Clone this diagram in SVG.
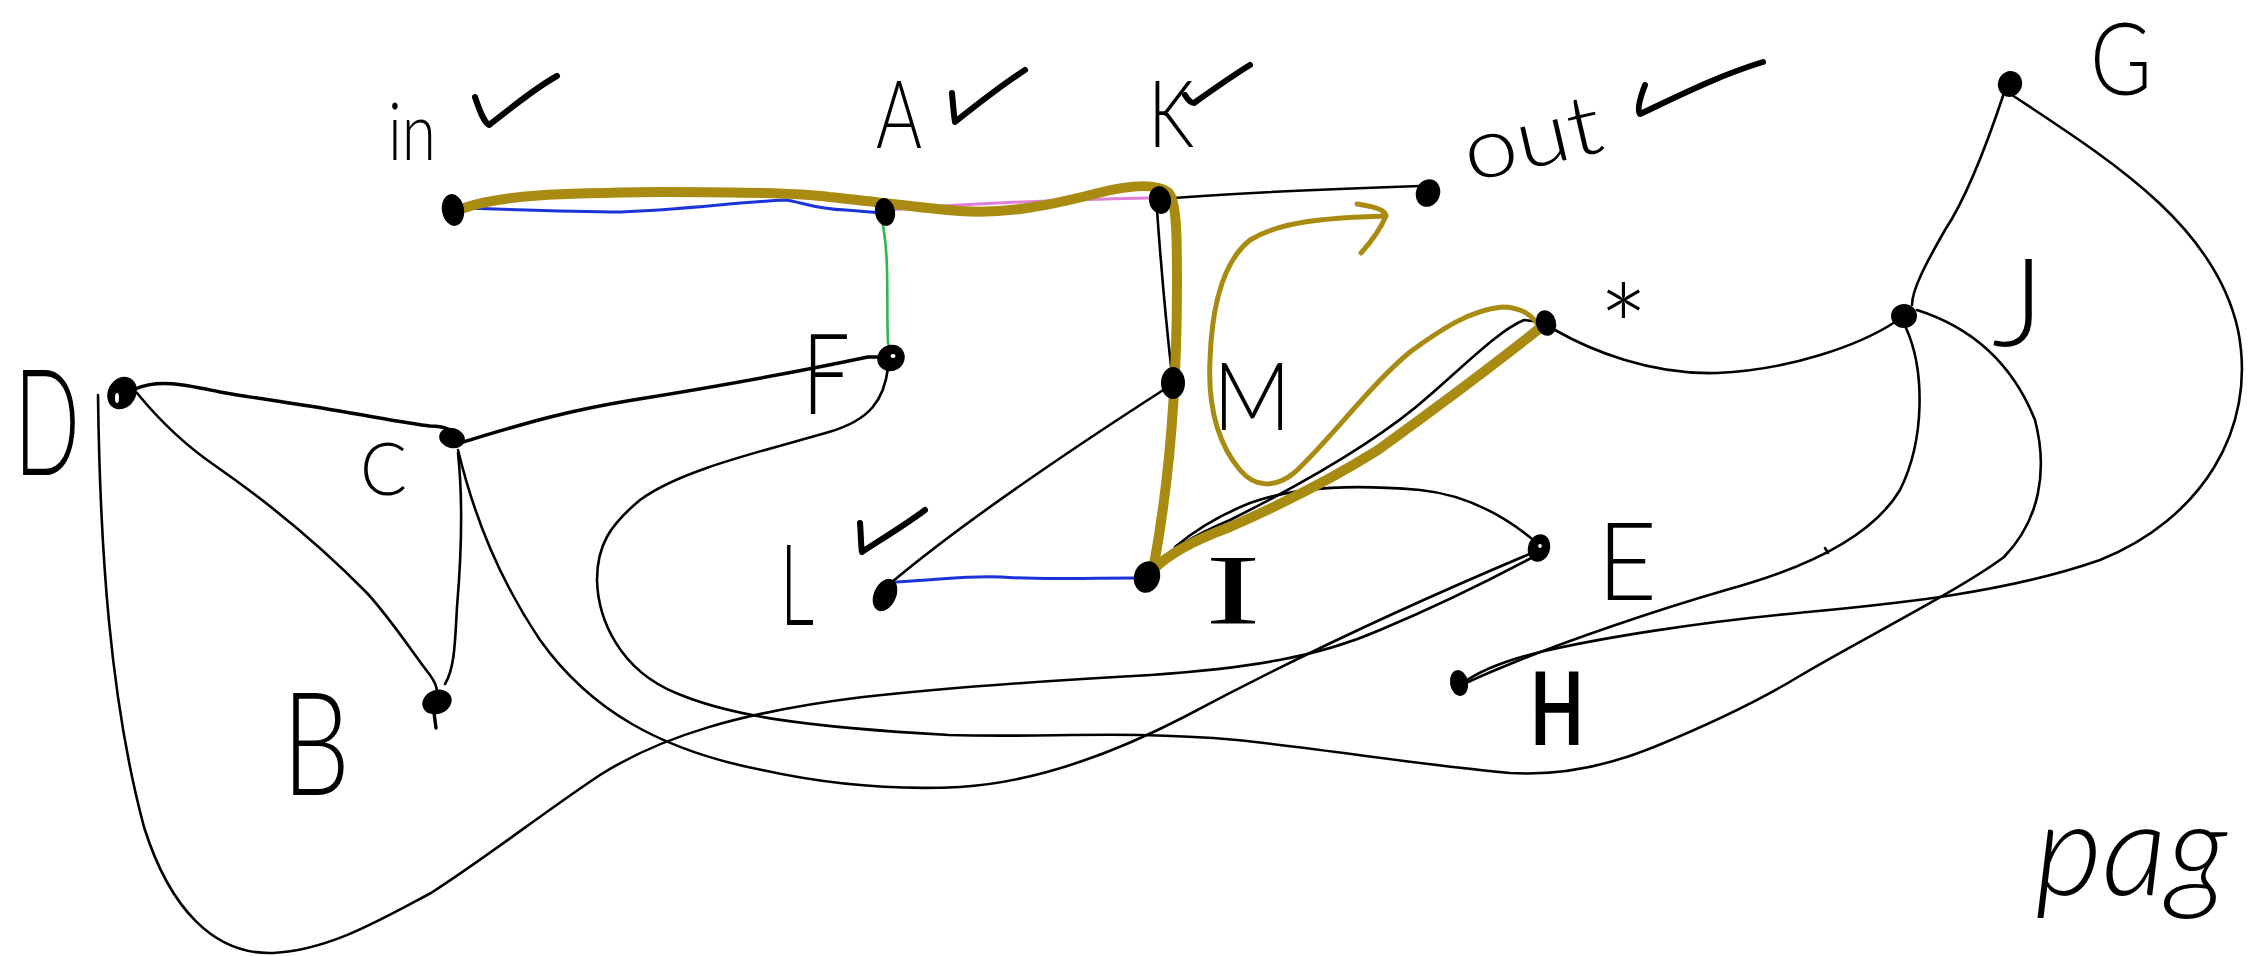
<svg xmlns="http://www.w3.org/2000/svg" width="2255" height="956" viewBox="0 0 2255 956">
<style>
.bg{fill:#ffffff}
.e{fill:none;stroke:#000;stroke-width:2.6;stroke-linecap:round;stroke-linejoin:round}
.e3{fill:none;stroke:#000;stroke-width:3.4;stroke-linecap:round;stroke-linejoin:round}
.blue{fill:none;stroke:#1c33d8;stroke-width:3;stroke-linecap:round}
.green{fill:none;stroke:#2db84c;stroke-width:2.6;stroke-linecap:round}
.pink{fill:none;stroke:#e07fd8;stroke-width:3;stroke-linecap:round}
.gold{fill:none;stroke:#a98b12;stroke-width:10;stroke-linecap:round;stroke-linejoin:round}
.gold2{fill:none;stroke:#a98b12;stroke-width:5;stroke-linecap:round;stroke-linejoin:round}
.dot{fill:#000}
.hole{fill:#fff}
.chk{fill:none;stroke:#000;stroke-width:6;stroke-linecap:round;stroke-linejoin:round}
.lbl{font-family:Lato,"Open Sans","Liberation Sans",Arial,sans-serif;font-weight:300;fill:#000}
.lbb{font-family:Lato,"Open Sans","Liberation Sans",Arial,sans-serif;font-weight:700;fill:#000}
.lbs{font-family:"Liberation Serif","Times New Roman",serif;fill:#000}
</style>
<rect class="bg" x="0" y="0" width="2255" height="956"/>

<g id="connectors">
  <!-- in - A (blue) -->
  <path class="blue" d="M464,208 C520,210 570,212 621,212 C680,210 740,202 784,200 C800,201 812,209 846,210 L882,213"/>
  <!-- A - K (pink) -->
  <path class="pink" d="M888,210 C950,205 1050,200 1149,198"/>
  <!-- A - F (green) -->
  <path class="green" d="M882,220 C890,260 886,300 888,343 L891,350"/>
  <!-- K - out -->
  <path class="e" d="M1174,198 C1250,192 1360,188 1420,186"/>
  <!-- K - M -->
  <path class="e" d="M1157,210 C1162,280 1168,340 1172,375"/>
  <!-- M - I -->
  <path class="e" d="M1174,395 C1168,470 1158,530 1152,570"/>
  <!-- M - L -->
  <path class="e" d="M1168,387 C1070,450 960,525 892,582"/>
  <!-- L - I (blue) -->
  <path class="blue" d="M896,582 C940,580 970,575 1001,577 C1040,580 1070,578 1137,578"/>
  <!-- D - C -->
  <path class="e3" d="M135,389 C160,378 190,386 220,392 C260,399 300,404 333,410 C375,417 410,424 430,426 C446,426 452,430 455,437"/>
  <!-- C - F -->
  <path class="e3" d="M463,442 C520,425 560,412 633,400 C720,386 806,370 868,357 L886,357"/>
  <!-- C - B -->
  <path class="e" d="M458,453 C463,500 461,560 457,607 C455,640 455,668 445,684"/>
  <!-- D - B -->
  <path class="e" d="M137,393 C155,415 180,442 217,467 C260,497 310,535 367,593 C390,618 413,653 430,675 C435,682 437,686 437,692"/>
  <!-- D - E (bottom loop) -->
  <path class="e" d="M98,395 C100,550 110,700 144,827 C170,910 215,955 273,953 C330,950 380,920 431,893 C490,855 540,815 600,775 C660,737 740,712 863,697 C960,686 1060,680 1151,675 C1250,668 1318,657 1380,630 C1440,605 1490,580 1535,556"/>
  <!-- C - E -->
  <path class="e" d="M458,450 C475,520 500,580 540,640 C590,710 660,750 762,770 C830,785 900,790 960,787 C1040,782 1120,750 1184,717 C1300,655 1420,600 1532,553"/>
  <!-- F - J (loop) -->
  <path class="e" d="M888,368 C884,400 870,420 829,432 C760,452 680,470 640,500 C610,525 597,545 597,580 C598,620 620,670 676,693 C730,716 805,727 949,735 C1050,738 1122,730 1237,740 C1330,750 1438,767 1510,773 C1560,776 1610,765 1654,747 C1720,720 1760,700 1798,677 C1860,640 1960,590 2004,557 C2040,520 2048,470 2035,420 C2015,370 1980,330 1917,310"/>
  <!-- I - * -->
  <path class="e" d="M1152,570 C1170,550 1190,537 1230,520 C1300,485 1380,440 1430,395 C1470,360 1500,330 1524,320 L1540,322"/>
  <!-- E - I -->
  <path class="e" d="M1537,543 C1510,520 1470,495 1420,490 C1360,485 1300,485 1250,503 C1220,515 1195,530 1175,547"/>
  <!-- * - J -->
  <path class="e" d="M1555,330 C1590,350 1650,375 1717,373 C1790,370 1860,345 1895,322"/>
  <!-- G - J -->
  <path class="e" d="M2004,93 C1985,150 1965,200 1945,230 C1925,265 1912,290 1912,305"/>
  <!-- G - H -->
  <path class="e" d="M2012,95 C2110,160 2215,225 2238,330 C2258,430 2200,520 2100,560 C2000,595 1880,605 1798,613 C1700,622 1600,638 1540,652 C1500,662 1478,672 1463,683"/>
  <!-- J - H -->
  <path class="e" d="M1906,328 C1925,370 1925,440 1900,490 C1870,540 1800,570 1726,590 C1650,612 1570,640 1520,660 C1490,672 1472,680 1462,685"/>
  <!-- stray mark -->
  <path class="e" d="M1825,548 L1828,553"/>
  <!-- highlighted path (gold) -->
  <path class="gold" d="M464,208 C500,195 560,193 660,192 C750,192 800,193 829,197 C880,202 920,208 960,211 C1000,214 1040,208 1098,193 C1130,185 1155,183 1168,192 C1177,200 1177,240 1177,283 C1177,380 1170,480 1153,570 C1170,552 1200,538 1230,527 C1280,505 1330,480 1378,450 C1440,405 1500,360 1540,328"/>
  <path class="gold2" d="M1540,330 C1535,315 1520,307 1502,307 C1470,310 1440,330 1410,352 C1370,385 1330,440 1294,473 C1275,488 1255,488 1240,470 C1215,440 1208,400 1210,360 C1212,300 1225,260 1250,240 C1280,222 1320,218 1386,216"/>
  <path class="gold2" d="M1357,204 C1372,206 1386,210 1386,216 C1380,230 1370,243 1361,253"/>
</g>

<g id="node-in">
  <ellipse class="dot" cx="453" cy="210" rx="11" ry="16" transform="rotate(-10 453 210)"/>
  <text class="lbl" x="388" y="160" font-size="80" textLength="48" lengthAdjust="spacingAndGlyphs">in</text>
  <path class="chk" d="M475,97 C480,112 484,122 489,125 C515,105 535,88 557,76"/>
</g>
<g id="node-A">
  <ellipse class="dot" cx="885" cy="212" rx="10" ry="14" transform="rotate(-10 885 212)"/>
  <text class="lbl" x="876" y="148" font-size="94" textLength="46" lengthAdjust="spacingAndGlyphs">A</text>
  <path class="chk" d="M952,93 C953,105 954,116 955,122 C980,102 1002,85 1025,70"/>
</g>
<g id="node-K">
  <ellipse class="dot" cx="1160" cy="200" rx="11" ry="14" transform="rotate(-10 1160 200)"/>
  <text class="lbl" x="1148" y="147" font-size="93" textLength="46" lengthAdjust="spacingAndGlyphs">K</text>
  <path class="chk" d="M1185,95 C1188,100 1191,103 1194,103 C1215,88 1232,76 1250,65"/>
</g>
<g id="node-out">
  <ellipse class="dot" cx="1428" cy="193" rx="12" ry="14" transform="rotate(20 1428 193)"/>
  <text class="lbl" x="1470" y="182" font-size="84" textLength="140" lengthAdjust="spacingAndGlyphs" transform="rotate(-13 1470 182)">out</text>
  <path class="chk" d="M1645,85 C1640,98 1637,110 1640,114 C1680,95 1720,75 1763,62" stroke-width="8"/>
</g>
<g id="node-G">
  <ellipse class="dot" cx="2010" cy="84" rx="12" ry="13" transform="rotate(20 2010 84)"/>
  <text class="lbl" x="2090" y="95" font-size="100" textLength="62" lengthAdjust="spacingAndGlyphs">G</text>
</g>
<g id="node-J">
  <ellipse class="dot" cx="1904" cy="316" rx="13" ry="12"/>
  <text class="lbl" x="1992" y="346" font-size="122" textLength="52" lengthAdjust="spacingAndGlyphs">J</text>
</g>
<g id="node-star">
  <ellipse class="dot" cx="1546" cy="323" rx="10" ry="13" transform="rotate(-15 1546 323)"/>
  <text class="lbl" x="1598" y="372" font-size="120">*</text>
</g>
<g id="node-M">
  <ellipse class="dot" cx="1173" cy="383" rx="12" ry="16"/>
  <text class="lbl" x="1213" y="430" font-size="94" textLength="78" lengthAdjust="spacingAndGlyphs">M</text>
</g>
<g id="node-F">
  <ellipse class="dot" cx="891" cy="358" rx="14" ry="13" transform="rotate(-30 891 358)"/>
  <ellipse class="hole" cx="893" cy="356" rx="2.5" ry="2"/>
  <text class="lbl" x="802" y="414" font-size="112" textLength="48" lengthAdjust="spacingAndGlyphs">F</text>
</g>
<g id="node-D">
  <ellipse class="dot" cx="122" cy="393" rx="14" ry="17" transform="rotate(30 122 393)"/>
  <ellipse class="hole" cx="117" cy="398" rx="2" ry="5"/>
  <text class="lbl" x="14" y="475" font-size="148" textLength="66" lengthAdjust="spacingAndGlyphs">D</text>
</g>
<g id="node-C">
  <ellipse class="dot" cx="452" cy="438" rx="13" ry="10" transform="rotate(15 452 438)"/>
  <text class="lbl" x="360" y="495" font-size="72" textLength="47" lengthAdjust="spacingAndGlyphs">C</text>
</g>
<g id="node-B">
  <ellipse class="dot" cx="437" cy="702" rx="15" ry="12" transform="rotate(-20 437 702)"/>
  <path class="e3" d="M433,705 L436,728"/>
  <text class="lbl" x="282" y="795" font-size="145" textLength="68" lengthAdjust="spacingAndGlyphs">B</text>
</g>
<g id="node-L">
  <ellipse class="dot" cx="885" cy="595" rx="11" ry="17" transform="rotate(25 885 595)"/>
  <text class="lbl" x="780" y="625" font-size="112" textLength="34" lengthAdjust="spacingAndGlyphs">L</text>
  <path class="chk" d="M860,523 C861,535 861,548 862,552 C880,540 905,525 925,510" stroke-width="3"/>
</g>
<g id="node-I">
  <ellipse class="dot" cx="1147" cy="577" rx="13" ry="16" transform="rotate(15 1147 577)"/>
  <text class="lbs" x="1205" y="623" font-size="100" textLength="56" lengthAdjust="spacingAndGlyphs">I</text>
</g>
<g id="node-E">
  <ellipse class="dot" cx="1539" cy="548" rx="11" ry="14" transform="rotate(15 1539 548)"/>
  <ellipse class="hole" cx="1540" cy="546" rx="1.8" ry="2"/>
  <text class="lbl" x="1597" y="600" font-size="108" textLength="60" lengthAdjust="spacingAndGlyphs">E</text>
</g>
<g id="node-H">
  <ellipse class="dot" cx="1459" cy="683" rx="9" ry="13" transform="rotate(-10 1459 683)"/>
  <text class="lbb" x="1530" y="745" font-size="102" textLength="54" lengthAdjust="spacingAndGlyphs">H</text>
</g>
<text class="lbl" x="2035" y="895" font-size="130" font-style="italic">pag</text>
</svg>
